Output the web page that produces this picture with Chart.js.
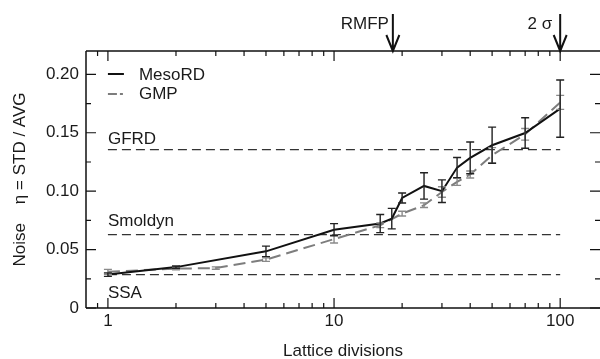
<!DOCTYPE html>
<html><head><meta charset="utf-8">
<script src="https://cdn.jsdelivr.net/npm/chart.js@4.4.1/dist/chart.umd.min.js"></script>
<style>html,body{margin:0;padding:0;background:#fff}#wrap{width:600px;height:359px}</style>
</head><body><div id="wrap"><canvas id="c" width="600" height="359"></canvas></div>
<script>
// ---- data ----
const mesoX   = [1, 2, 5, 10, 16, 18, 20, 25, 30, 35, 40, 50, 70, 100];
const mesoY   = [0.0286, 0.0350, 0.0485, 0.0670, 0.0723, 0.0765, 0.0942, 0.1045, 0.1000, 0.1202, 0.1285, 0.1393, 0.1498, 0.1707];
const mesoErr = [0.0015, 0.0010, 0.0045, 0.0052, 0.0078, 0.0088, 0.0043, 0.0113, 0.0097, 0.0086, 0.0136, 0.0155, 0.0131, 0.0245];

const gmpX   = [1, 2, 3, 5, 10, 16, 20, 25, 30, 35, 40, 50, 70, 100];
const gmpY   = [0.0310, 0.0337, 0.0342, 0.0414, 0.0590, 0.0708, 0.0808, 0.0880, 0.0993, 0.1080, 0.1143, 0.1308, 0.1487, 0.1760];
const gmpErr = [0.0021, 0.0010, 0.0010, 0.0015, 0.0033, 0.0020, 0.0020, 0.0020, 0.0045, 0.0030, 0.0030, 0.0065, 0.0050, 0.0060];

const refNames  = ['GFRD', 'Smoldyn', 'SSA'];
const refValues = [0.1356, 0.0628, 0.0286];
const refRangeX = [1, 100];

const markerLabels = ['RMFP', '2 σ'];
const markerValues = [18.2, 100];

const xTickVals  = [1, 10, 100];
const xMinorVals = [0.9, 2, 3, 4, 5, 6, 7, 8, 9, 20, 30, 40, 50, 60, 70, 80, 90];
const yTickVals  = [0, 0.05, 0.10, 0.15, 0.20];
const yMinorVals = [0.025, 0.075, 0.125, 0.175];

const xTitle = 'Lattice divisions';
const yTitle = 'Noise    η = STD / AVG';
const seriesNames = ['MesoRD', 'GMP'];

// ---- chart ----
const FONT = "'Liberation Sans', Arial, Helvetica, sans-serif";
const TXT = '#1a1a1a';
Chart.defaults.font.family = FONT;
Chart.defaults.font.size = 17;
Chart.defaults.color = TXT;

const pts = (xs, ys) => xs.map((v, i) => ({x: v, y: ys[i]}));

const datasets = [
  {label: seriesNames[0], data: pts(mesoX, mesoY), borderColor: '#111', borderWidth: 2, pointRadius: 0, tension: 0, order: 1},
  {label: seriesNames[1], data: pts(gmpX, gmpY), borderColor: '#7d7d7d', borderWidth: 2, borderDash: [12, 6], pointRadius: 0, tension: 0, order: 2}
];
refValues.forEach((v, i) => datasets.push({
  label: refNames[i], data: refRangeX.map(xx => ({x: xx, y: v})),
  borderColor: '#333', borderWidth: 1.3, borderDash: [9, 5], pointRadius: 0, order: 3
}));

function drawErr(ctx, xs, ys, es, color, sx, sy) {
  ctx.save();
  ctx.strokeStyle = color; ctx.lineWidth = 1.4; ctx.setLineDash([]);
  xs.forEach((v, i) => {
    const px = sx.getPixelForValue(v);
    const p1 = sy.getPixelForValue(ys[i] + es[i]);
    const p2 = sy.getPixelForValue(ys[i] - es[i]);
    ctx.beginPath();
    ctx.moveTo(px, p1); ctx.lineTo(px, p2);
    ctx.moveTo(px - 4, p1); ctx.lineTo(px + 4, p1);
    ctx.moveTo(px - 4, p2); ctx.lineTo(px + 4, p2);
    ctx.stroke();
  });
  ctx.restore();
}

const decor = {
  id: 'decor',
  afterDatasetsDraw(chart) {
    const {ctx, scales: {x, y}} = chart;
    drawErr(ctx, gmpX, gmpY, gmpErr, '#8a8a8a', x, y);
    drawErr(ctx, mesoX, mesoY, mesoErr, '#222', x, y);
  },
  afterDraw(chart) {
    const {ctx, chartArea: a, scales: {x, y}} = chart;
    ctx.save();
    ctx.strokeStyle = '#111'; ctx.lineWidth = 1.5; ctx.setLineDash([]);
    // frame (left, top, bottom)
    ctx.beginPath();
    ctx.moveTo(a.left, a.top); ctx.lineTo(a.left, a.bottom);
    ctx.moveTo(a.left, a.top); ctx.lineTo(a.right, a.top);
    ctx.moveTo(a.left, a.bottom); ctx.lineTo(a.right, a.bottom);
    ctx.stroke();
    // ticks
    ctx.lineWidth = 1.2;
    ctx.beginPath();
    const xt = (v, len) => { const p = x.getPixelForValue(v);
      ctx.moveTo(p, a.bottom); ctx.lineTo(p, a.bottom - len);
      ctx.moveTo(p, a.top); ctx.lineTo(p, a.top + len); };
    const yt = (v, len) => { const p = y.getPixelForValue(v);
      ctx.moveTo(a.left, p); ctx.lineTo(a.left + len, p);
      ctx.moveTo(a.right, p); ctx.lineTo(a.right - len, p); };
    xTickVals.forEach(v => xt(v, 10));
    xMinorVals.forEach(v => xt(v, 5));
    yTickVals.forEach(v => yt(v, 10));
    yMinorVals.forEach(v => yt(v, 5));
    ctx.stroke();

    ctx.fillStyle = TXT;
    ctx.font = '17px ' + FONT;
    // reference labels
    const x1 = x.getPixelForValue(refRangeX[0]);
    const offs = [-6, -8.5, 23];
    refValues.forEach((v, i) => {
      ctx.textAlign = 'left'; ctx.textBaseline = 'alphabetic';
      ctx.fillText(refNames[i], x1, y.getPixelForValue(v) + offs[i]);
    });
    // legend
    ctx.strokeStyle = '#111'; ctx.lineWidth = 2;
    ctx.beginPath(); ctx.moveTo(x1, 74); ctx.lineTo(x1 + 16, 74); ctx.stroke();
    ctx.strokeStyle = '#7d7d7d';
    ctx.setLineDash([9, 3, 3, 3]);
    ctx.beginPath(); ctx.moveTo(x1, 94); ctx.lineTo(x1 + 16, 94); ctx.stroke();
    ctx.setLineDash([]);
    ctx.fillText(seriesNames[0], x1 + 31, 80);
    ctx.fillText(seriesNames[1], x1 + 31, 98.5);
    // arrows
    ctx.strokeStyle = '#111'; ctx.lineWidth = 2;
    markerValues.forEach((v, i) => {
      const p = x.getPixelForValue(v);
      ctx.beginPath();
      ctx.moveTo(p, 14); ctx.lineTo(p, a.top);
      ctx.moveTo(p - 6.5, a.top - 16); ctx.lineTo(p, a.top); ctx.lineTo(p + 6.5, a.top - 16);
      ctx.stroke();
      ctx.textAlign = 'right';
      ctx.fillText(markerLabels[i], p - (i === 0 ? 4 : 8), 29);
    });
    // axis titles
    ctx.textAlign = 'center'; ctx.textBaseline = 'alphabetic';
    ctx.fillText(xTitle, (a.left + a.right) / 2, 356);
    ctx.save();
    ctx.translate(25, (a.top + a.bottom) / 2);
    ctx.rotate(-Math.PI / 2);
    ctx.fillText(yTitle, 0, 0);
    ctx.restore();
    ctx.restore();
  }
};

new Chart(document.getElementById('c'), {
  type: 'line',
  data: {datasets},
  options: {
    responsive: false, animation: false,
    layout: {padding: {top: 51, left: 0, right: 0, bottom: 0}},
    plugins: {legend: {display: false}, tooltip: {enabled: false}},
    scales: {
      x: {
        type: 'logarithmic', min: 0.8, max: 150, position: 'bottom',
        afterFit: s => { s.height = 51; },
        afterBuildTicks: s => { s.ticks = xTickVals.map(v => ({value: v})); },
        ticks: {callback: v => String(v), padding: 3, maxRotation: 0, autoSkip: false, color: TXT, font: {size: 17}},
        grid: {display: false, drawTicks: false}, border: {display: false}
      },
      y: {
        type: 'linear', min: 0, max: 0.22,
        afterFit: s => { s.width = 86; },
        afterBuildTicks: s => { s.ticks = yTickVals.map(v => ({value: v})); },
        ticks: {callback: v => (v === 0 ? '0' : v.toFixed(2)), padding: 7, color: TXT, font: {size: 17}},
        grid: {display: false, drawTicks: false}, border: {display: false}
      }
    }
  },
  plugins: [decor]
});
</script></body></html>
